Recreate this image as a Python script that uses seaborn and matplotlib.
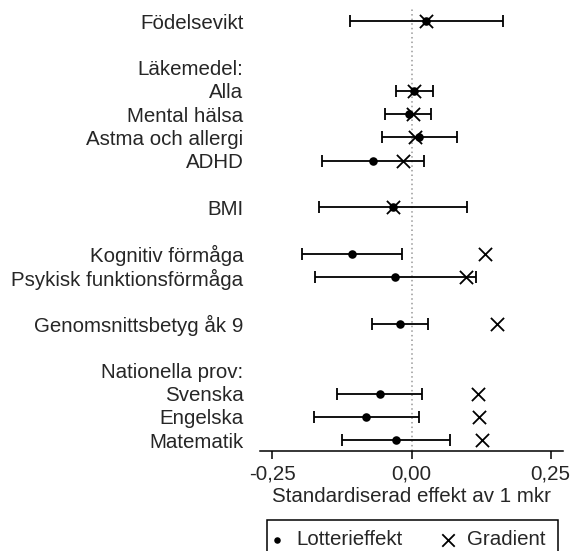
import numpy as np
import pandas as pd
import matplotlib
matplotlib.use("Agg")
import matplotlib.pyplot as plt
from matplotlib.patches import Rectangle
import seaborn as sns

# Row labels (blank strings are spacer rows, headers carry no estimate)
labels = ["Födelsevikt", "", "Läkemedel:", "Alla", "Mental hälsa",
          "Astma och allergi", "ADHD", "", "BMI", "", "Kognitiv förmåga",
          "Psykisk funktionsförmåga", "", "Genomsnittsbetyg åk 9", "",
          "Nationella prov:", "Svenska", "Engelska", "Matematik"]

nan = np.nan
lottery = [0.026, nan, nan, 0.005, -0.005, 0.014, -0.069, nan, -0.034, nan,
           -0.107, -0.030, nan, -0.020, nan, nan, -0.057, -0.081, -0.028]
ci_low = [-0.111, nan, nan, -0.028, -0.047, -0.053, -0.160, nan, -0.166, nan,
          -0.196, -0.174, nan, -0.071, nan, nan, -0.134, -0.175, -0.125]
ci_high = [0.164, nan, nan, 0.039, 0.035, 0.082, 0.022, nan, 0.099, nan,
           -0.017, 0.115, nan, 0.030, nan, nan, 0.018, 0.013, 0.070]
gradient = [0.026, nan, nan, 0.005, 0.003, 0.006, -0.016, nan, -0.034, nan,
            0.132, 0.097, nan, 0.153, nan, nan, 0.119, 0.122, 0.127]

xticks = [-0.25, 0.0, 0.25]
xticklabels = ["-0,25", "0,00", "0,25"]

df = pd.DataFrame({"label": labels, "row": np.arange(len(labels)),
                   "lottery": lottery, "lo": ci_low, "hi": ci_high,
                   "gradient": gradient})

FS = 14.8
W, H = 573, 551

sns.set_theme(style="white")
plt.rcParams["font.family"] = ["Liberation Sans", "DejaVu Sans"]
plt.rcParams["font.size"] = FS

fig = plt.figure(figsize=(W / 100, H / 100), dpi=100)
ax = fig.add_axes([260 / W, 1 - 451 / H, 303 / W, 441.6 / H])

# zero reference line
ax.axvline(0, color="#999999", linestyle=(0, (1, 2)), linewidth=1.1, zorder=0)

# confidence intervals
est = df.dropna(subset=["lottery"])
ax.errorbar(est["lottery"], est["row"],
            xerr=[est["lottery"] - est["lo"], est["hi"] - est["lottery"]],
            fmt="none", ecolor="black", elinewidth=1.3, capsize=4,
            capthick=1.3, zorder=2)

sns.scatterplot(data=est, x="lottery", y="row", ax=ax, color="black",
                marker="o", s=38, edgecolor="black", linewidth=0,
                label="Lotterieffekt", zorder=3)
sns.scatterplot(data=est, x="gradient", y="row", ax=ax, color="black",
                marker="x", s=90, linewidth=1.3, label="Gradient", zorder=4)

ax.set_xlim(-0.272, 0.272)
ax.set_ylim(18.47, -0.5)
ax.set_yticks(df["row"])
ax.set_yticklabels(labels, fontsize=FS)
ax.tick_params(axis="y", length=0, pad=12)
ax.set_xticks(xticks)
ax.set_xticklabels(xticklabels, fontsize=FS)
ax.tick_params(axis="x", direction="out", length=6, width=1.1,
               color="black", pad=3.5, bottom=True)
ax.set_xlabel("Standardiserad effekt av 1 mkr", fontsize=FS, labelpad=3)
ax.set_ylabel("")

for side in ["top", "left", "right"]:
    ax.spines[side].set_visible(False)
ax.spines["bottom"].set_color("black")
ax.spines["bottom"].set_linewidth(1.1)

# legend entries below the plot, inside a plain rectangular border
handles, lbls = ax.get_legend_handles_labels()
leg = ax.legend(handles, lbls, loc="upper left", ncol=2,
                bbox_to_anchor=(272.4 / W, 1 - 530 / H),
                bbox_transform=fig.transFigure, frameon=False,
                handletextpad=0.75, borderaxespad=0, columnspacing=2.0,
                borderpad=0, handlelength=0.4, fontsize=FS)
leg.legend_handles[0].set_sizes([22])
leg.legend_handles[1].set_sizes([80])

fig.patches.append(Rectangle((266.7 / W, 1 - 556 / H), 291 / W, 36.5 / H,
                             transform=fig.transFigure, fill=False,
                             edgecolor="black", linewidth=1.1))

fig.savefig("out.png", dpi=100, facecolor="white")
